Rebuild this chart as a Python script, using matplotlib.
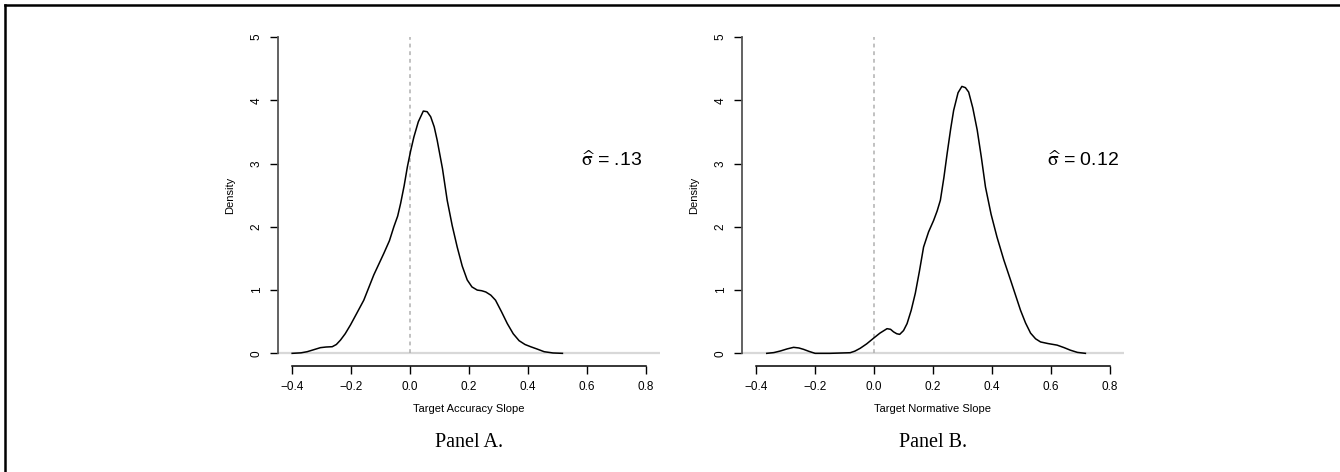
import matplotlib
matplotlib.use("Agg")
import matplotlib.pyplot as plt
from matplotlib.lines import Line2D

# Panel A: kernel density of target accuracy slopes
acc_x = [-0.40, -0.37, -0.349, -0.325, -0.304, -0.285, -0.264, -0.25, -0.236, -0.22,
         -0.202, -0.18, -0.157, -0.14, -0.123, -0.105, -0.089, -0.07, -0.055, -0.042,
         -0.032, -0.02, -0.009, 0.002, 0.013, 0.028, 0.045, 0.058, 0.07, 0.082,
         0.092, 0.11, 0.126, 0.143, 0.16, 0.177, 0.194, 0.21, 0.228, 0.243,
         0.257, 0.274, 0.29, 0.31, 0.33, 0.35, 0.37, 0.39, 0.409, 0.43,
         0.455, 0.485, 0.517]
acc_y = [0.0, 0.008, 0.026, 0.06, 0.09, 0.1, 0.105, 0.14, 0.21, 0.31,
         0.45, 0.64, 0.84, 1.04, 1.24, 1.42, 1.58, 1.78, 2.0, 2.17,
         2.37, 2.65, 2.95, 3.2, 3.42, 3.66, 3.83, 3.82, 3.74, 3.58,
         3.37, 2.92, 2.42, 2.02, 1.68, 1.38, 1.16, 1.05, 1.0, 0.99,
         0.97, 0.92, 0.84, 0.66, 0.47, 0.31, 0.2, 0.14, 0.105, 0.07,
         0.026, 0.006, 0.0]

# Panel B: kernel density of target normative slopes
norm_x = [-0.364, -0.34, -0.318, -0.295, -0.273, -0.255, -0.239, -0.22, -0.2, -0.15,
          -0.081, -0.065, -0.047, -0.025, -0.0015, 0.02, 0.044, 0.056, 0.066, 0.077,
          0.087, 0.1, 0.112, 0.126, 0.14, 0.154, 0.168, 0.185, 0.202, 0.214,
          0.225, 0.237, 0.248, 0.26, 0.27, 0.285, 0.298, 0.31, 0.321, 0.335,
          0.35, 0.364, 0.378, 0.397, 0.417, 0.44, 0.463, 0.48, 0.497, 0.514,
          0.531, 0.548, 0.565, 0.59, 0.621, 0.645, 0.666, 0.69, 0.717]
norm_y = [0.0, 0.012, 0.037, 0.07, 0.095, 0.085, 0.063, 0.03, 0.0, 0.0,
          0.01, 0.035, 0.08, 0.15, 0.24, 0.32, 0.39, 0.38, 0.34, 0.31,
          0.30, 0.36, 0.47, 0.68, 0.95, 1.3, 1.68, 1.92, 2.1, 2.25,
          2.42, 2.78, 3.16, 3.55, 3.84, 4.12, 4.22, 4.2, 4.13, 3.88,
          3.53, 3.1, 2.63, 2.2, 1.84, 1.48, 1.16, 0.92, 0.68, 0.48,
          0.32, 0.23, 0.18, 0.155, 0.13, 0.09, 0.05, 0.015, 0.0]

panels = [
    {"x": acc_x, "y": acc_y, "xlabel": "Target Accuracy Slope",
     "sigma": r"$\widehat{\mathrm{\sigma}}$ = .13", "sigma_x": 0.685, "title": "Panel A.", "left": 278},
    {"x": norm_x, "y": norm_y, "xlabel": "Target Normative Slope",
     "sigma": r"$\widehat{\mathrm{\sigma}}$ = 0.12", "sigma_x": 0.71, "title": "Panel B.", "left": 742},
]
x_ticks = [-0.4, -0.2, 0.0, 0.2, 0.4, 0.6, 0.8]
x_tick_labels = ["\u22120.4", "\u22120.2", "0.0", "0.2", "0.4", "0.6", "0.8"]
y_ticks = [0, 1, 2, 3, 4, 5]

W, H = 1340, 472
plt.rcParams["mathtext.fontset"] = "stix"
fig = plt.figure(figsize=(W / 100, H / 100), dpi=100)
sans = "Liberation Sans"

for p in panels:
    ax = fig.add_axes([p["left"] / W, 1 - 366 / H, 382 / W, 341.6 / H])
    ax.set_xlim(-0.448, 0.848)
    ax.set_ylim(-0.2, 5.2)
    ax.axhline(0, color="#d8d8d8", lw=1.6, zorder=1)
    ax.vlines(0, 0, 5, color="#b0b0b0", lw=1.1, linestyles=(0, (2.5, 2.5)), zorder=1)
    ax.plot(p["x"], p["y"], color="black", lw=1.1, zorder=2)

    for s in ["top", "right"]:
        ax.spines[s].set_visible(False)
    ax.spines["left"].set_bounds(0, 5)
    ax.spines["bottom"].set_bounds(-0.4, 0.8)
    ax.spines["left"].set_color("#555555")
    ax.spines["left"].set_linewidth(1.3)
    ax.spines["bottom"].set_linewidth(1.1)

    ax.set_xticks(x_ticks)
    ax.set_xticklabels(x_tick_labels, family=sans, fontsize=8.5)
    ax.set_yticks(y_ticks)
    ax.set_yticklabels([str(v) for v in y_ticks], family=sans, fontsize=8.5,
                       rotation=90, va="center")
    ax.tick_params(direction="out", length=6, width=1.0, pad=5)
    ax.set_xlabel(p["xlabel"], family=sans, fontsize=8, labelpad=8)
    ax.set_ylabel("Density", family=sans, fontsize=8, labelpad=11)
    ax.text(p["sigma_x"], 3.05, p["sigma"], family=sans, fontsize=14,
            ha="center", va="center")
    ax.text(0.5, -0.225, p["title"], transform=ax.transAxes, family="Liberation Serif",
            fontsize=14.5, ha="center", va="center")

# frame lines at top and left of the figure
fig.add_artist(Line2D([5 / W, 1.0], [1 - 5 / H, 1 - 5 / H], color="black", lw=1.8))
fig.add_artist(Line2D([5 / W, 5 / W], [1 - 5 / H, 0.0], color="black", lw=1.8))

fig.savefig("out.png", dpi=100)
